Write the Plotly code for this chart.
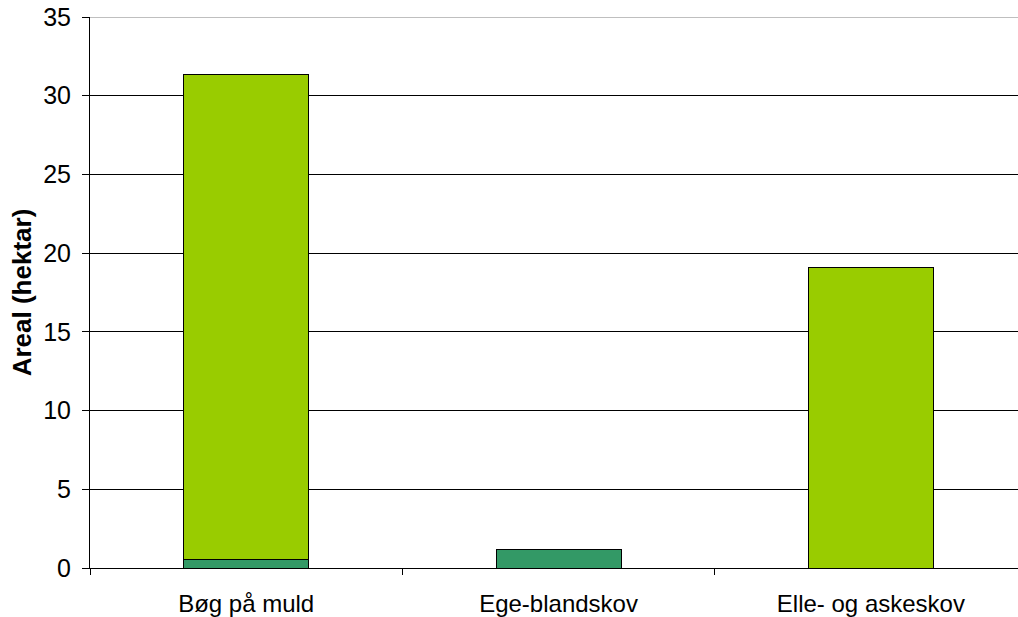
import plotly.graph_objects as go

categories = ["Bøg på muld", "Ege-blandskov", "Elle- og askeskov"]
dark_series = [0.57, 1.2, 0.0]
light_series = [30.75, 0.0, 19.1]
y_ticks = [0, 5, 10, 15, 20, 25, 30, 35]

x_pos = list(range(len(categories)))

fig = go.Figure()
fig.add_trace(go.Bar(x=x_pos, y=dark_series, marker=dict(color="#339966", line=dict(color="#000000", width=1)),
                     width=0.4, name="dark"))
fig.add_trace(go.Bar(x=x_pos, y=light_series, marker=dict(color="#99CC00", line=dict(color="#000000", width=1)),
                     width=0.4, name="light"))

fig.update_layout(
    barmode="stack",
    width=1018, height=617,
    margin=dict(l=90, r=0, t=17, b=49),
    plot_bgcolor="white", paper_bgcolor="white",
    showlegend=False,
    font=dict(family="Liberation Sans, Arial, sans-serif", size=24, color="#000000"),
)
fig.update_xaxes(
    range=[-0.5, 2.471],
    tickmode="array", tickvals=x_pos, ticktext=categories,
    ticks="", showline=True, linecolor="#000000", linewidth=1,
    showgrid=False, zeroline=False, tickfont=dict(size=24),
    ticklabelstandoff=14,
    minor=dict(tickmode="array", tickvals=[-0.5, 0.5, 1.5], ticks="outside", ticklen=6, tickcolor="#000000"),
)
fig.update_yaxes(
    range=[0, 35], tickvals=y_ticks,
    ticks="outside", ticklen=7, tickcolor="#000000",
    showline=True, linecolor="#000000", linewidth=1,
    showgrid=True, gridcolor="#000000", gridwidth=1, zeroline=False,
    title=dict(text="<b>Areal (hektar)</b>", font=dict(size=26), standoff=4),
    tickfont=dict(size=25), ticklabelstandoff=6,
)
fig.add_shape(type="line", xref="paper", yref="y", x0=0, x1=1, y0=35, y1=35,
              line=dict(color="#808080", width=1))

fig.write_html("out.html")
